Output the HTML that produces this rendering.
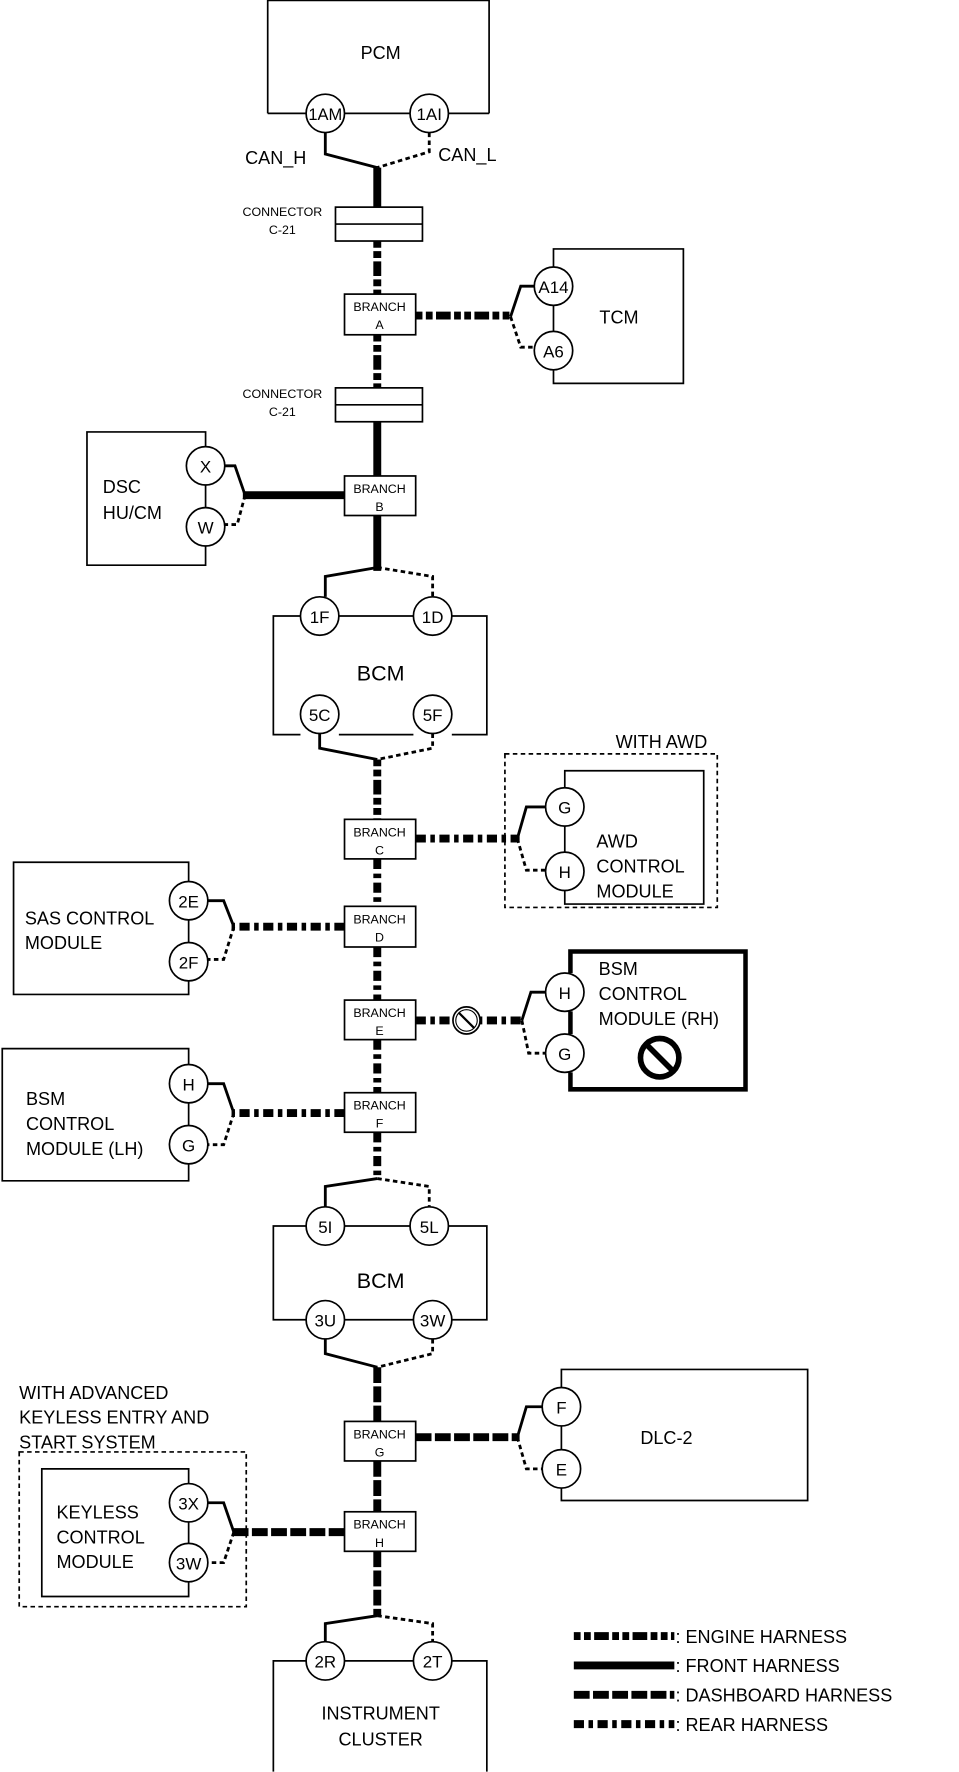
<!DOCTYPE html>
<html><head><meta charset="utf-8"><style>
html,body{margin:0;padding:0;background:#fff}
svg{display:block}
text{font-family:"Liberation Sans",Arial,sans-serif;fill:#000}
.b{fill:none;stroke:#000;stroke-width:1.5}
.c{fill:#fff;stroke:#000;stroke-width:1.5}
.w{fill:none;stroke:#000;stroke-width:2.5}
.wd{fill:none;stroke:#000;stroke-width:2.5;stroke-dasharray:4 3}
.fr{fill:none;stroke:#000;stroke-width:7}
.en{fill:none;stroke:#000;stroke-width:7;stroke-dasharray:6 3 6 3 13 3}
.rr{fill:none;stroke:#000;stroke-width:7;stroke-dasharray:9 4 4 4}
.db{fill:none;stroke:#000;stroke-width:7;stroke-dasharray:14 3}
.ct{font-size:15px;text-anchor:middle}
.br{font-size:11px;text-anchor:middle}
.t{font-size:16px}
</style></head><body>
<svg width="959" height="1772" viewBox="0 0 849 1568" xmlns="http://www.w3.org/2000/svg">
<path class="b" d="M237 100 V0 H433 V100 M237 100 H271 M305 100 H363 M397 100 H433"/>
<text class="t" x="337" y="52" text-anchor="middle">PCM</text>
<path class="w" d="M288 117 V136 L334 148"/>
<path class="wd" d="M380 117 V134 L334 148"/>
<circle class="c" cx="288" cy="100" r="17"/><text class="ct" x="288" y="106" textLength="30" lengthAdjust="spacingAndGlyphs">1AM</text>
<circle class="c" cx="380" cy="100" r="17"/><text class="ct" x="380" y="106">1AI</text>
<text class="t" x="217" y="145">CAN_H</text>
<text class="t" x="388" y="142">CAN_L</text>
<path class="fr" d="M334 148 V183"/>
<path class="en" d="M334 213 V260"/>
<path class="en" d="M334 296 V343"/>
<path class="fr" d="M334 373 V505"/>
<path class="en" d="M334 672 V725"/>
<path class="rr" d="M334 760 V802"/>
<path class="rr" d="M334 838 V885"/>
<path class="rr" d="M334 920 V967"/>
<path class="rr" d="M334 1002 V1043"/>
<path class="db" d="M334 1210 V1258"/>
<path class="db" d="M334 1293 V1338"/>
<path class="db" d="M334 1373 V1430"/>
<rect class="c" x="297" y="183" width="77" height="30"/><path class="b" d="M297 198 H374"/>
<text font-size="11" x="250" y="191" text-anchor="middle">CONNECTOR</text><text font-size="11" x="250" y="207" text-anchor="middle">C-21</text>
<rect class="c" x="297" y="343" width="77" height="30"/><path class="b" d="M297 358 H374"/>
<text font-size="11" x="250" y="352" text-anchor="middle">CONNECTOR</text><text font-size="11" x="250" y="368" text-anchor="middle">C-21</text>
<g>
<rect class="c" x="305" y="260" width="63" height="36"/><text class="br" x="336" y="275">BRANCH</text><text class="br" x="336" y="291">A</text>
<rect class="c" x="305" y="421" width="63" height="35"/><text class="br" x="336" y="436">BRANCH</text><text class="br" x="336" y="452">B</text>
<rect class="c" x="305" y="725" width="63" height="35"/><text class="br" x="336" y="740">BRANCH</text><text class="br" x="336" y="756">C</text>
<rect class="c" x="305" y="802" width="63" height="36"/><text class="br" x="336" y="817">BRANCH</text><text class="br" x="336" y="833">D</text>
<rect class="c" x="305" y="885" width="63" height="35"/><text class="br" x="336" y="900">BRANCH</text><text class="br" x="336" y="916">E</text>
<rect class="c" x="305" y="967" width="63" height="35"/><text class="br" x="336" y="982">BRANCH</text><text class="br" x="336" y="998">F</text>
<rect class="c" x="305" y="1258" width="63" height="35"/><text class="br" x="336" y="1273">BRANCH</text><text class="br" x="336" y="1289">G</text>
<rect class="c" x="305" y="1338" width="63" height="35"/><text class="br" x="336" y="1353">BRANCH</text><text class="br" x="336" y="1369">H</text>
</g>
<path class="en" d="M368 279 H454"/>
<path class="w" d="M452 280 L461 253 H473"/>
<path class="wd" d="M452 280 L461 307 H473"/>
<path class="b" d="M490 236 V220 H605 V339 H490 V327 M490 270 V293"/>
<circle class="c" cx="490" cy="253" r="17"/><text class="ct" x="490" y="259">A14</text>
<circle class="c" cx="490" cy="310" r="17"/><text class="ct" x="490" y="316">A6</text>
<text class="t" x="548" y="286" text-anchor="middle">TCM</text>
<path class="fr" d="M305 438 H215"/>
<path class="w" d="M217 438 L208 412 H199"/>
<path class="wd" d="M217 438 L210 464 H199"/>
<path class="b" d="M182 395 V382 H77 V500 H182 V483 M182 429 V449"/>
<circle class="c" cx="182" cy="412" r="17"/><text class="ct" x="182" y="418">X</text>
<circle class="c" cx="182" cy="466" r="17"/><text class="ct" x="182" y="472">W</text>
<text class="t" x="91" y="436">DSC</text><text class="t" x="91" y="459">HU/CM</text>
<path class="w" d="M334 502 L288 510 V528"/>
<path class="wd" d="M334 502 L383 510 V528"/>
<path class="b" d="M266 545 H242 V650 H266 M300 545 H366 M400 545 H431 V650 H400 M300 650 H366"/>
<circle class="c" cx="283" cy="545" r="17"/><text class="ct" x="283" y="551">1F</text>
<circle class="c" cx="383" cy="545" r="17"/><text class="ct" x="383" y="551">1D</text>
<circle class="c" cx="283" cy="632" r="17"/><text class="ct" x="283" y="638">5C</text>
<circle class="c" cx="383" cy="632" r="17"/><text class="ct" x="383" y="638">5F</text>
<text x="337" y="602" font-size="19" text-anchor="middle">BCM</text>
<path class="w" d="M283 649 V662 L334 672"/>
<path class="wd" d="M383 649 V662 L334 672"/>
<path class="rr" d="M368 742 H460"/>
<path class="w" d="M458 742 L466 714 H483"/>
<path class="wd" d="M458 742 L466 770 H483"/>
<path class="b" d="M500 697 V682 H623 V800 H500 V788 M500 731 V754"/>
<rect x="447" y="667" width="188" height="136" fill="none" stroke="#000" stroke-width="1.5" stroke-dasharray="4 3"/>
<rect x="540" y="648" width="100" height="16" fill="#fff"/>
<text class="t" x="545" y="662">WITH AWD</text>
<circle class="c" cx="500" cy="714" r="17"/><text class="ct" x="500" y="720">G</text>
<circle class="c" cx="500" cy="771" r="17"/><text class="ct" x="500" y="777">H</text>
<text class="t" x="528" y="750">AWD</text><text class="t" x="528" y="772">CONTROL</text><text class="t" x="528" y="794">MODULE</text>
<path class="rr" d="M305 820 H205"/>
<path class="w" d="M207 820 L198 797 H184"/>
<path class="wd" d="M207 820 L198 849 H184"/>
<path class="b" d="M167 780 V763 H12 V880 H167 V868 M167 814 V834"/>
<circle class="c" cx="167" cy="797" r="17"/><text class="ct" x="167" y="803">2E</text>
<circle class="c" cx="167" cy="851" r="17"/><text class="ct" x="167" y="857">2F</text>
<text class="t" x="22" y="818">SAS CONTROL</text><text class="t" x="22" y="840">MODULE</text>
<path class="rr" d="M368 903 H464"/>
<circle cx="413" cy="903" r="12" fill="#fff" stroke="#000" stroke-width="1.5"/>
<circle cx="413" cy="903" r="9.5" fill="none" stroke="#000" stroke-width="1"/>
<path d="M406 896 L420 910" stroke="#000" stroke-width="2"/>
<path class="w" d="M462 903 L470 878 H483"/>
<path class="wd" d="M462 903 L468 932 H483"/>
<path d="M505 861 V842 H660 V964 H505 V949 M505 895 V915" fill="none" stroke="#000" stroke-width="4"/>
<circle class="c" cx="500" cy="878" r="17"/><text class="ct" x="500" y="884">H</text>
<circle class="c" cx="500" cy="932" r="17"/><text class="ct" x="500" y="938">G</text>
<text class="t" x="530" y="863">BSM</text><text class="t" x="530" y="885">CONTROL</text><text class="t" x="530" y="907">MODULE (RH)</text>
<circle cx="584" cy="936" r="17" fill="none" stroke="#000" stroke-width="5"/>
<path d="M573 925 L595 947" stroke="#000" stroke-width="5"/>
<path class="rr" d="M305 985 H205"/>
<path class="w" d="M207 985 L198 959 H184"/>
<path class="wd" d="M207 985 L198 1013 H184"/>
<path class="b" d="M167 942 V928 H2 V1045 H167 V1030 M167 976 V996"/>
<circle class="c" cx="167" cy="959" r="17"/><text class="ct" x="167" y="965">H</text>
<circle class="c" cx="167" cy="1013" r="17"/><text class="ct" x="167" y="1019">G</text>
<text class="t" x="23" y="978">BSM</text><text class="t" x="23" y="1000">CONTROL</text><text class="t" x="23" y="1022">MODULE (LH)</text>
<path class="w" d="M334 1043 L288 1050 V1068"/>
<path class="wd" d="M334 1043 L380 1050 V1068"/>
<path class="b" d="M271 1085 H242 V1168 H271 M305 1085 H363 M397 1085 H431 V1168 H400 M305 1168 H366"/>
<circle class="c" cx="288" cy="1085" r="17"/><text class="ct" x="288" y="1091">5I</text>
<circle class="c" cx="380" cy="1085" r="17"/><text class="ct" x="380" y="1091">5L</text>
<circle class="c" cx="288" cy="1168" r="17"/><text class="ct" x="288" y="1174">3U</text>
<circle class="c" cx="383" cy="1168" r="17"/><text class="ct" x="383" y="1174">3W</text>
<text x="337" y="1140" font-size="19" text-anchor="middle">BCM</text>
<path class="w" d="M288 1185 V1198 L334 1210"/>
<path class="wd" d="M383 1185 V1198 L334 1210"/>
<path class="db" d="M368 1272 H460"/>
<path class="w" d="M458 1272 L466 1245 H480"/>
<path class="wd" d="M458 1272 L466 1300 H480"/>
<path class="b" d="M497 1228 V1212 H715 V1328 H497 V1317 M497 1262 V1283"/>
<circle class="c" cx="497" cy="1245" r="17"/><text class="ct" x="497" y="1251">F</text>
<circle class="c" cx="497" cy="1300" r="17"/><text class="ct" x="497" y="1306">E</text>
<text class="t" x="590" y="1278" text-anchor="middle">DLC-2</text>
<path class="db" d="M305 1356 H205"/>
<path class="w" d="M207 1356 L198 1330 H184"/>
<path class="wd" d="M207 1356 L198 1383 H184"/>
<path class="b" d="M167 1313 V1300 H37 V1413 H167 V1400 M167 1347 V1366"/>
<rect x="17" y="1285" width="201" height="137" fill="none" stroke="#000" stroke-width="1.5" stroke-dasharray="4 3"/>
<circle class="c" cx="167" cy="1330" r="17"/><text class="ct" x="167" y="1336">3X</text>
<circle class="c" cx="167" cy="1383" r="17"/><text class="ct" x="167" y="1389">3W</text>
<text class="t" x="50" y="1344">KEYLESS</text><text class="t" x="50" y="1366">CONTROL</text><text class="t" x="50" y="1388">MODULE</text>
<text class="t" x="17" y="1238">WITH ADVANCED</text><text class="t" x="17" y="1260">KEYLESS ENTRY  AND</text><text class="t" x="17" y="1282">START SYSTEM</text>
<path class="w" d="M334 1430 L288 1437 V1453"/>
<path class="wd" d="M334 1430 L383 1437 V1453"/>
<path class="b" d="M271 1470 H242 V1568 M305 1470 H366 M400 1470 H431 V1568"/>
<circle class="c" cx="288" cy="1470" r="17"/><text class="ct" x="288" y="1476">2R</text>
<circle class="c" cx="383" cy="1470" r="17"/><text class="ct" x="383" y="1476">2T</text>
<text class="t" x="337" y="1522" text-anchor="middle">INSTRUMENT</text><text class="t" x="337" y="1545" text-anchor="middle">CLUSTER</text>
<path class="en" d="M508 1448 H597"/>
<path class="fr" d="M508 1474 H597"/>
<path class="db" d="M508 1500 H597"/>
<path class="rr" d="M508 1526 H597"/>
<text class="t" x="598" y="1454">: ENGINE HARNESS</text>
<text class="t" x="598" y="1480">: FRONT HARNESS</text>
<text class="t" x="598" y="1506">: DASHBOARD HARNESS</text>
<text class="t" x="598" y="1532">: REAR HARNESS</text>
</svg>
</body></html>
